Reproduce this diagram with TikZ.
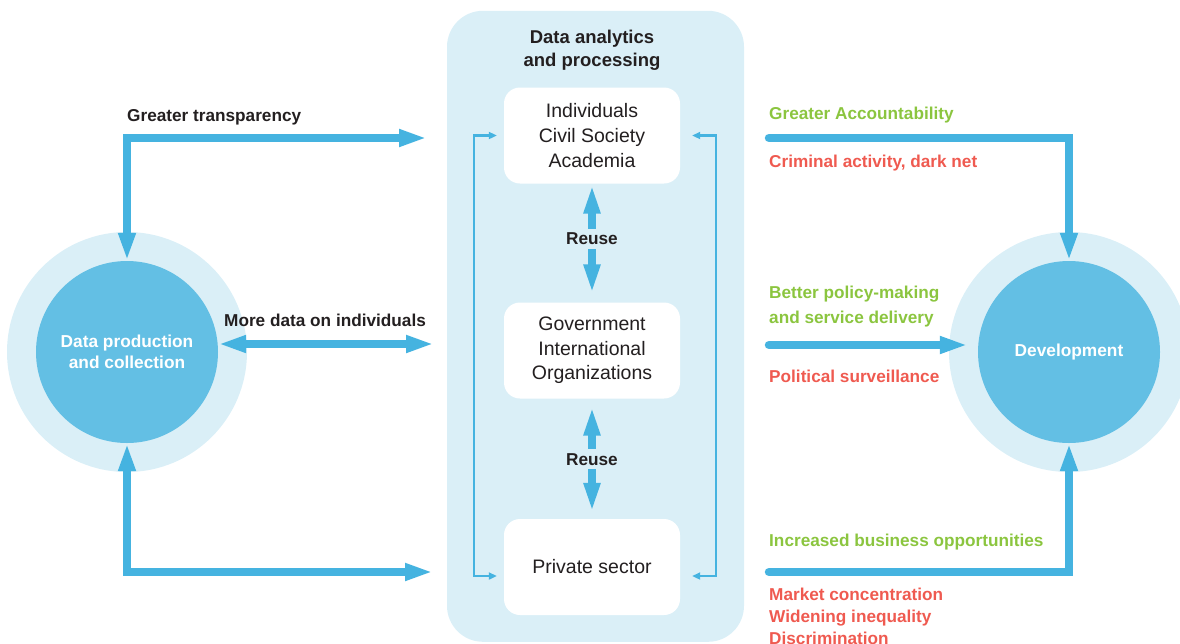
\documentclass[tikz,border=0pt]{standalone}
\usepackage{fontspec}
\setmainfont{Liberation Sans}
\usetikzlibrary{arrows.meta}
\definecolor{abl}{RGB}{69,179,224}
\definecolor{cbl}{RGB}{99,191,228}
\definecolor{lbl}{RGB}{218,239,247}
\definecolor{grn}{RGB}{139,197,63}
\definecolor{rd}{RGB}{239,90,80}
\definecolor{txt}{RGB}{35,31,32}
\tikzset{
 bigtip/.tip={Triangle[length=28pt,width=16pt]},
 reusetip/.tip={Triangle[length=30pt,width=15pt]},
 smalltip/.tip={Triangle[length=8pt,width=7pt]},
 flow/.style={draw=abl, line width=8.5pt},
 fb/.style={draw=abl, line width=2.2pt},
 reuseline/.style={draw=abl, line width=8pt, reusetip-reusetip},
 reuselabel/.style={fill=lbl, text=txt, inner xsep=2pt, inner ysep=4pt, font=\fontsize{17.2}{21}\selectfont\bfseries},
 ring/.style={circle, fill=lbl, minimum size=240pt, inner sep=0pt},
 hub/.style={circle, fill=cbl, minimum size=182pt, inner sep=0pt, text=white, align=center, font=\fontsize{17.3}{21}\selectfont\bfseries},
 actor/.style={rectangle, rounded corners=16pt, fill=white, minimum width=176pt, minimum height=96pt, inner sep=0pt, align=center, text=txt, font=\fontsize{19.5}{24.7}\selectfont},
 lab/.style={anchor=base west, inner sep=0pt, text=txt, font=\fontsize{17.2}{21}\selectfont\bfseries},
}
\begin{document}
\begin{tikzpicture}[x=1pt,y=-1pt]
\useasboundingbox (0,0) rectangle (1180,643);
% circles
\node[ring] (dpring) at (127,352) {};
\node[ring] (devring) at (1069,352) {};
\node[hub] (dp) at (127,352) {Data production\\and collection};
\node[hub] (dev) at (1069,352) {Development};
% central panel
\node[rectangle, rounded corners=36pt, fill=lbl, minimum width=297pt, minimum height=631pt, inner sep=0pt] (panel) at (595.5,326.3) {};
\node[align=center, text=txt, inner sep=0pt, font=\fontsize{18.5}{23.5}\selectfont\bfseries] (title) at (592,50.5) {Data analytics\\and processing};
\node[actor] (b1) at (592,135.5) {Individuals\\Civil Society\\Academia};
\node[actor] (b2) at (592,350.5) {Government\\International\\Organizations};
\node[actor] (b3) at (592,567) {Private sector};
% reuse arrows
\draw[reuseline] (b1.south) -- ([yshift=8pt]b2.north) node[midway, reuselabel] (r1) {Reuse};
\draw[reuseline] ([yshift=-7pt]b2.south) -- ([yshift=6pt]b3.north) node[midway, reuselabel] (r2) {Reuse};
% feedback loops
\coordinate (fl1) at (474,135.5);
\coordinate (fl2) at (474,576);
\coordinate (fr1) at (716,135.5);
\coordinate (fr2) at (716,576);
\draw[fb, smalltip-smalltip] ([xshift=-7pt]b1.west) -- (fl1) -- (fl2) -- ([xshift=-7pt]b3.west |- fl2);
\draw[fb, smalltip-smalltip] ([xshift=12pt]b1.east) -- (fr1) -- (fr2) -- ([xshift=12pt]b3.east |- fr2);
% left flows
\coordinate (gt) at (427,138);
\coordinate (md) at (434,344);
\coordinate (bl) at (433,572);
\draw[flow, bigtip-bigtip] (dp.north) |- (gt);
\draw[flow, bigtip-bigtip] (dp.east |- md) -- (md);
\draw[flow, bigtip-bigtip] (dp.south) |- (bl);
% right flows
\coordinate (ga) at (769,138);
\coordinate (bp) at (769,345);
\coordinate (ib) at (769,572);
\draw[flow, -bigtip, line cap=round] (ga) -| (dev.north);
\draw[flow, -bigtip, line cap=round] (bp) -- ([xshift=-10pt]dev.west |- bp);
\draw[flow, -bigtip, line cap=round] (ib) -| (dev.south);
% labels
\node[lab] (tr) at (127,121) {Greater transparency};
\node[lab] (mdi) at (224,326) {More data on individuals};
\node[lab, text=grn] (acc) at (769,119.5) {Greater Accountability};
\node[lab, text=rd] (crim) at (769,167) {Criminal activity, dark net};
\node[lab, text=grn] (pol1) at (769,298) {Better policy-making};
\node[lab, text=grn] (pol2) at (769,323) {and service delivery};
\node[lab, text=rd] (surv) at (769,382) {Political surveillance};
\node[lab, text=grn] (biz) at (769,546) {Increased business opportunities};
\node[lab, text=rd] (mc) at (769,600) {Market concentration};
\node[lab, text=rd] (wi) at (769,622) {Widening inequality};
\node[lab, text=rd] (disc) at (769,644) {Discrimination};
\end{tikzpicture}
\end{document}
